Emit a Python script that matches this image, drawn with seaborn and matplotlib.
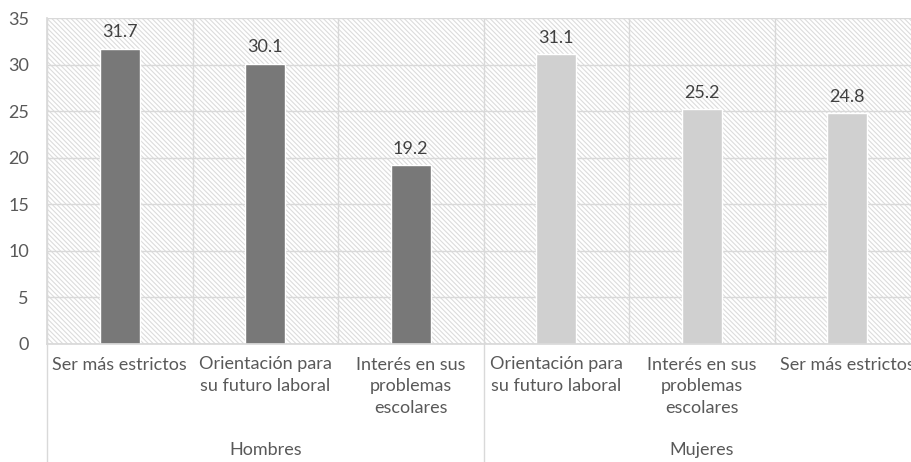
import matplotlib
matplotlib.use("Agg")
import matplotlib.pyplot as plt
import matplotlib.transforms as mtransforms
from matplotlib.patches import Rectangle
import numpy as np
import pandas as pd
import seaborn as sns

# ---- data ----
groups = ["Hombres", "Hombres", "Hombres", "Mujeres", "Mujeres", "Mujeres"]
categories = ["Ser más estrictos", "Orientación para\nsu futuro laboral",
              "Interés en sus\nproblemas\nescolares",
              "Orientación para\nsu futuro laboral",
              "Interés en sus\nproblemas\nescolares", "Ser más estrictos"]
values = [31.7, 30.1, 19.2, 31.1, 25.2, 24.8]
group_names = ["Hombres", "Mujeres"]
group_colors = {"Hombres": "#787878", "Mujeres": "#d0d0d0"}
yticks = [0, 5, 10, 15, 20, 25, 30, 35]

keys = [f"{g}|{c}" for g, c in zip(groups, categories)]
df = pd.DataFrame({"key": keys, "Grupo": groups, "Categoria": categories, "Valor": values})

sns.set_theme(style="white")
plt.rcParams["font.family"] = ["Lato", "DejaVu Sans"]
plt.rcParams["hatch.linewidth"] = 0.8

fig = plt.figure(figsize=(9.11, 4.62), dpi=100)
W, H = 911, 462
x0, x1 = 47, 920
y_top, y_bot = 18, 344
ax = fig.add_axes([x0 / W, (H - y_bot) / H, (x1 - x0) / W, (y_bot - y_top) / H])

# hatched background
ax.add_patch(Rectangle((0, 0), 1, 1, transform=ax.transAxes, facecolor="white",
                       edgecolor="#dcdcdc", hatch="\\" * 7, lw=0, zorder=0.1))

sns.barplot(data=df, x="key", y="Valor", hue="Grupo", order=keys, palette=group_colors,
            dodge=False, width=0.275, legend=False, ax=ax, zorder=2, saturation=1)

ax.set_ylim(0, 35)
ax.set_xlim(-0.5, 5.5)
ax.set_yticks(yticks)
ax.set_xticks(range(len(keys)))
ax.set_xticklabels(categories, linespacing=1.45)
ax.set_xticks(np.arange(-0.5, 6, 1), minor=True)
ax.set_xlabel("")
ax.set_ylabel("")
ax.set_axisbelow(True)
ax.grid(axis="y", which="major", color="#d9d9d9", lw=1)
ax.grid(axis="x", which="minor", color="#d9d9d9", lw=1)
ax.grid(axis="x", which="major", visible=False)
ax.tick_params(axis="both", which="both", length=0, colors="#595959", labelsize=13)
ax.tick_params(axis="x", pad=9)
ax.tick_params(axis="y", pad=13)
for s in ["top", "right"]:
    ax.spines[s].set_visible(False)
ax.spines["left"].set_color("#d9d9d9")
ax.spines["bottom"].set_color("#d9d9d9")

# data labels
for cont in ax.containers:
    ax.bar_label(cont, fmt="%.1f", padding=6, color="#404040", fontsize=13)

# group separators and labels
trans = mtransforms.blended_transform_factory(ax.transData, ax.transAxes)
ext = -(H - y_bot) / (y_bot - y_top)
for xs in [-0.5, 2.5]:
    ax.plot([xs, xs], [0, ext], transform=trans, color="#d9d9d9", lw=1, clip_on=False)
for i, g in enumerate(group_names):
    ax.text(1 + 3 * i, -106 / (y_bot - y_top), g, transform=trans, ha="center",
            va="center", color="#595959", fontsize=13)

fig.savefig("out.png", dpi=100)
